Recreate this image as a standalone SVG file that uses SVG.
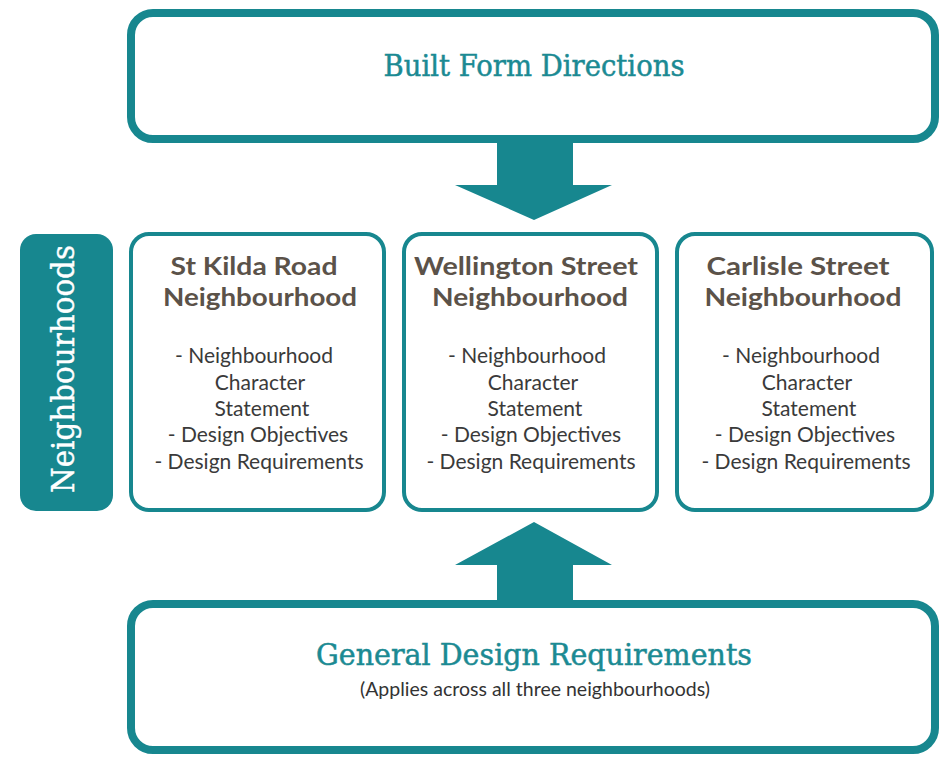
<svg xmlns="http://www.w3.org/2000/svg" width="944" height="758" viewBox="0 0 944 758">
<style>
.big{fill:#fff;stroke:#17878f;stroke-width:8}
.nb{fill:#fff;stroke:#17878f;stroke-width:4}
.arrow{fill:#17878f}
.slab{font-family:"DejaVu Serif","Liberation Serif",serif;fill:#1b8a93;stroke:#1b8a93;stroke-width:0.5;text-anchor:middle}
.head{font-family:Lato,"Open Sans",sans-serif;font-weight:bold;font-size:25px;fill:#5b5249;text-anchor:middle}
.body{font-family:Lato,"Open Sans",sans-serif;font-size:21px;fill:#3a3a3a;text-anchor:middle}
</style>
<rect width="944" height="758" fill="#fff"/>
<g id="connectors">
<polygon class="arrow" points="497,138 573,138 573,185 612,185 534,220 455,185 497,185"/>
<polygon class="arrow" points="534,522 612,565 573,565 573,606 497,606 497,565 455,565"/>
</g>
<g id="built-form">
<rect class="big" x="131" y="13" width="804" height="126" rx="22"/>
<text class="slab" x="534" y="76" font-size="29" textLength="301" lengthAdjust="spacingAndGlyphs">Built Form Directions</text>
</g>
<g id="neighbourhoods-label">
<rect x="20" y="234" width="93" height="277" rx="16" fill="#17878f"/>
<text x="74" y="369" font-family="DejaVu Serif,Liberation Serif,serif" font-size="31" fill="#fff" stroke="#fff" stroke-width="0.4" text-anchor="middle" transform="rotate(-90 74 369)" textLength="248" lengthAdjust="spacingAndGlyphs">Neighbourhoods</text>
</g>
<g id="st-kilda">
<rect class="nb" x="131" y="234" width="253" height="276" rx="18"/>
<text class="head" x="254" y="275" textLength="167" lengthAdjust="spacingAndGlyphs">St Kilda Road</text>
<text class="head" x="260" y="306" textLength="194" lengthAdjust="spacingAndGlyphs">Neighbourhood</text>
<text class="body"><tspan x="254" y="363">- Neighbourhood</tspan><tspan x="260" y="390">Character</tspan><tspan x="262" y="416">Statement</tspan><tspan x="258" y="442">- Design Objectives</tspan><tspan x="259" y="469">- Design Requirements</tspan></text>
</g>
<g id="wellington">
<rect class="nb" x="404" y="234" width="253" height="276" rx="18"/>
<text class="head" x="526" y="275" textLength="224" lengthAdjust="spacingAndGlyphs">Wellington Street</text>
<text class="head" x="530" y="306" textLength="196" lengthAdjust="spacingAndGlyphs">Neighbourhood</text>
<text class="body"><tspan x="527" y="363">- Neighbourhood</tspan><tspan x="533" y="390">Character</tspan><tspan x="535" y="416">Statement</tspan><tspan x="531" y="442">- Design Objectives</tspan><tspan x="531" y="469">- Design Requirements</tspan></text>
</g>
<g id="carlisle">
<rect class="nb" x="677" y="234" width="255" height="276" rx="18"/>
<text class="head" x="798" y="275" textLength="183" lengthAdjust="spacingAndGlyphs">Carlisle Street</text>
<text class="head" x="803" y="306" textLength="197" lengthAdjust="spacingAndGlyphs">Neighbourhood</text>
<text class="body"><tspan x="801" y="363">- Neighbourhood</tspan><tspan x="807" y="390">Character</tspan><tspan x="809" y="416">Statement</tspan><tspan x="805" y="442">- Design Objectives</tspan><tspan x="806" y="469">- Design Requirements</tspan></text>
</g>
<g id="general">
<rect class="big" x="131" y="604" width="804" height="146" rx="22"/>
<text class="slab" x="534" y="665" font-size="29" textLength="436" lengthAdjust="spacingAndGlyphs">General Design Requirements</text>
<text x="535" y="696" font-family="Lato,Open Sans,sans-serif" font-size="19" fill="#333" text-anchor="middle" textLength="350" lengthAdjust="spacingAndGlyphs">(Applies across all three neighbourhoods)</text>
</g>
</svg>
